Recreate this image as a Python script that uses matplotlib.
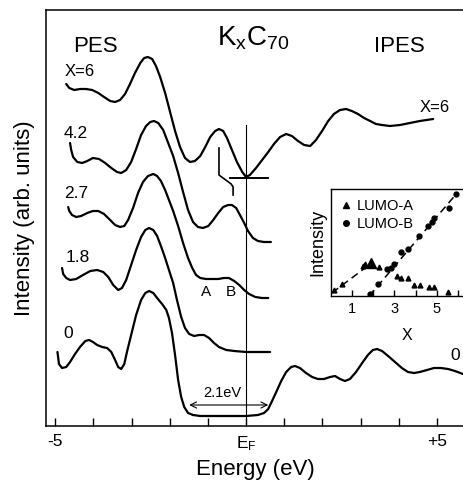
import matplotlib
matplotlib.use("Agg")
import matplotlib.pyplot as plt
from matplotlib.lines import Line2D

plt.rcParams['font.family'] = ['Liberation Sans', 'DejaVu Sans']
plt.rcParams['mathtext.fontset'] = 'custom'
plt.rcParams['mathtext.rm'] = 'Liberation Sans'
plt.rcParams['mathtext.it'] = 'Liberation Sans:italic'

# photoemission / inverse photoemission spectra of KxC70, offset vertically
# energy in eV relative to E_F, intensity in arb. units
e_x6 = [-4.71, -4.63, -4.50, -4.35, -4.19, -4.03, -3.87, -3.72, -3.56, -3.43,
        -3.30, -3.17, -3.04, -2.91, -2.77, -2.67, -2.57, -2.46, -2.36, -2.25,
        -2.12, -1.99, -1.86, -1.73, -1.60, -1.47, -1.34, -1.20, -1.07, -0.94,
        -0.81, -0.71, -0.60, -0.50, -0.37, -0.24, -0.10, 0.00, 0.10, 0.26,
        0.42, 0.58, 0.73, 0.89, 1.05, 1.20, 1.36, 1.52, 1.68, 1.83,
        1.99, 2.15, 2.30, 2.46, 2.62, 2.77, 2.93, 3.09, 3.25, 3.40,
        3.56, 3.77, 4.03, 4.29, 4.55, 4.90]
i_x6 = [34.2, 33.8, 33.6, 33.7, 33.7, 33.6, 33.3, 32.9, 32.5, 32.4,
        32.6, 33.2, 34.2, 35.3, 36.3, 36.8, 36.9, 36.7, 36.0, 34.9,
        33.3, 31.4, 29.5, 27.9, 26.8, 26.4, 26.5, 27.0, 27.9, 28.9,
        29.5, 29.7, 29.5, 28.8, 27.6, 26.4, 25.4, 24.9, 25.1, 25.8,
        26.6, 27.4, 28.2, 28.9, 29.2, 29.0, 28.5, 28.1, 28.0, 28.6,
        29.5, 30.5, 31.2, 31.6, 31.7, 31.5, 31.2, 30.8, 30.5, 30.2,
        30.1, 30.0, 30.1, 30.3, 30.5, 30.7]

e_42 = [-4.61, -4.58, -4.53, -4.42, -4.29, -4.16, -4.01, -3.85, -3.69, -3.53,
        -3.38, -3.27, -3.14, -3.01, -2.88, -2.75, -2.62, -2.51, -2.41, -2.30,
        -2.17, -2.04, -1.91, -1.78, -1.65, -1.52, -1.39, -1.26, -1.13, -0.99,
        -0.86, -0.73, -0.60, -0.47, -0.37, -0.26, -0.16, -0.05, 0.05, 0.18,
        0.31, 0.47, 0.65]
i_42 = [28.3, 27.6, 26.9, 26.4, 26.3, 26.5, 26.8, 26.7, 26.3, 25.8,
        25.4, 25.3, 25.6, 26.4, 27.7, 29.1, 30.0, 30.4, 30.5, 30.3,
        29.6, 28.3, 27.0, 25.3, 23.4, 21.6, 20.4, 19.9, 19.8, 20.0,
        20.6, 21.3, 21.9, 22.1, 22.1, 21.8, 21.1, 20.3, 19.5, 18.8,
        18.5, 18.4, 18.4]

e_27 = [-4.66, -4.63, -4.56, -4.45, -4.32, -4.16, -4.01, -3.87, -3.72, -3.56,
        -3.43, -3.30, -3.19, -3.09, -2.96, -2.83, -2.70, -2.57, -2.43, -2.33,
        -2.23, -2.12, -2.02, -1.91, -1.78, -1.65, -1.52, -1.41, -1.31, -1.20,
        -1.05, -0.89, -0.73, -0.58, -0.45, -0.31, -0.18, -0.05, 0.08, 0.24,
        0.42, 0.58]
i_27 = [21.9, 21.5, 21.1, 20.9, 21.0, 21.3, 21.5, 21.5, 21.2, 20.6,
        20.1, 19.9, 20.0, 20.6, 21.8, 23.3, 24.4, 25.0, 25.2, 25.0,
        24.5, 23.6, 22.6, 21.5, 20.0, 18.3, 16.8, 15.8, 15.1, 14.8,
        14.7, 14.7, 14.7, 14.8, 14.8, 14.5, 14.1, 13.6, 13.2, 12.9,
        12.8, 12.8]

e_18 = [-4.82, -4.79, -4.71, -4.61, -4.45, -4.27, -4.08, -3.90, -3.74, -3.61,
        -3.48, -3.35, -3.25, -3.14, -3.01, -2.88, -2.75, -2.64, -2.54, -2.43,
        -2.33, -2.23, -2.12, -2.02, -1.91, -1.81, -1.70, -1.60, -1.49, -1.36,
        -1.23, -1.10, -0.97, -0.84, -0.71, -0.52, -0.31, 0.00, 0.31, 0.63]
i_18 = [15.8, 15.2, 14.8, 14.6, 14.7, 15.1, 15.5, 15.6, 15.4, 14.9,
        14.1, 13.6, 13.8, 14.6, 16.1, 17.6, 18.9, 19.6, 19.8, 19.6,
        19.0, 18.0, 16.8, 15.6, 14.3, 12.6, 10.9, 9.8, 9.2, 9.0,
        9.1, 9.1, 8.8, 8.3, 7.9, 7.6, 7.5, 7.4, 7.4, 7.4]

e_0 = [-4.94, -4.92, -4.90, -4.82, -4.71, -4.61, -4.48, -4.35, -4.21, -4.11,
       -4.01, -3.90, -3.77, -3.64, -3.53, -3.43, -3.35, -3.27, -3.19, -3.12,
       -3.01, -2.88, -2.75, -2.64, -2.54, -2.43, -2.33, -2.20, -2.09, -2.02,
       -1.94, -1.86, -1.78, -1.70, -1.62, -1.52, -1.39, -1.20, -0.81, -0.42,
       0.00, 0.31, 0.47, 0.58, 0.68, 0.79, 0.92, 1.05, 1.18, 1.28,
       1.41, 1.57, 1.73, 1.88, 2.04, 2.20, 2.33, 2.46, 2.59, 2.72,
       2.88, 3.04, 3.19, 3.32, 3.43, 3.56, 3.72, 3.90, 4.08, 4.24,
       4.40, 4.55, 4.74, 4.92, 5.10, 5.29, 5.47, 5.68]
i_0 = [7.4, 6.8, 6.2, 5.8, 5.9, 6.4, 7.2, 7.9, 8.5, 8.6,
       8.4, 8.1, 7.9, 7.8, 7.4, 6.6, 5.9, 5.7, 6.2, 7.4,
       9.1, 11.1, 12.6, 13.3, 13.5, 13.3, 12.8, 12.2, 11.6, 10.8,
       9.3, 7.1, 4.6, 2.9, 1.9, 1.3, 1.1, 1.0, 1.0, 1.0,
       1.0, 1.1, 1.3, 1.7, 2.5, 3.4, 4.5, 5.4, 5.9, 6.0,
       5.8, 5.3, 4.9, 4.7, 4.7, 4.9, 5.0, 4.7, 4.5, 4.7,
       5.4, 6.3, 7.1, 7.6, 7.7, 7.5, 7.0, 6.4, 5.8, 5.4,
       5.3, 5.4, 5.6, 5.8, 5.8, 5.7, 5.5, 5.2]

# offset marker on the x=6 curve at E_F
hook_e = [-0.71, -0.71, -0.39, -0.34, -0.34]
hook_i = [27.8, 25.1, 24.2, 23.9, 23.1]
bar_e = [-0.42, 0.58]
bar_i = [24.8, 24.8]
ef_line_top = 30.1
gap_e = [-1.49, 0.58]
gap_i = 2.1

# inset: LUMO intensities vs potassium content x
x_lumo_a = [0.16, 0.51, 1.51, 1.63, 2.25, 3.10, 3.33, 3.65, 3.94, 4.21, 4.63, 4.86, 5.52]
y_lumo_a = [0.06, 0.11, 0.28, 0.30, 0.27, 0.19, 0.17, 0.17, 0.10, 0.10, 0.08, 0.08, 0.04]
x_lumo_a_big = [1.90]
y_lumo_a_big = [0.31]
x_lumo_b = [1.83, 2.22, 2.67, 2.83, 2.98, 3.30, 3.62, 4.16, 4.57, 4.76, 4.89, 5.56, 5.90]
y_lumo_b = [0.02, 0.11, 0.25, 0.26, 0.30, 0.41, 0.44, 0.56, 0.65, 0.69, 0.73, 0.82, 0.95]
fit_a_x = [0.05, 1.80]
fit_a_y = [0.03, 0.29]
fit_b_x = [1.80, 5.95]
fit_b_y = [0.00, 0.96]

fig = plt.figure(figsize=(4.64, 4.8), dpi=100)
ax = fig.add_axes([46 / 464, 54 / 480, 418 / 464, 416 / 480])

lw = 1.6
for e, i in [(e_x6, i_x6), (e_42, i_42), (e_27, i_27), (e_18, i_18), (e_0, i_0)]:
    ax.plot(e, i, color='black', lw=lw, solid_joinstyle='round', solid_capstyle='round')

ax.plot([0, 0], [0, ef_line_top], color='black', lw=0.8)
ax.plot(hook_e, hook_i, color='black', lw=1.2)
ax.plot(bar_e, bar_i, color='black', lw=1.4)

ax.annotate('', xy=(gap_e[0], gap_i), xytext=(gap_e[1], gap_i),
            arrowprops=dict(arrowstyle='<->', lw=0.8, color='black',
                            shrinkA=0, shrinkB=0, mutation_scale=11))
ax.text(-0.63, 2.6, '2.1eV', fontsize=10.5, ha='center', va='bottom')

ax.text(-1.05, 13.4, 'A', fontsize=11, ha='center', va='center')
ax.text(-0.39, 13.4, 'B', fontsize=11, ha='center', va='center')

ax.text(-4.35, 35.4, 'X=6', fontsize=12, ha='center', va='center')
ax.text(-4.45, 29.3, '4.2', fontsize=12.5, ha='center', va='center')
ax.text(-4.45, 23.3, '2.7', fontsize=12.5, ha='center', va='center')
ax.text(-4.42, 16.9, '1.8', fontsize=12.5, ha='center', va='center')
ax.text(-4.66, 9.3, '0', fontsize=12.5, ha='center', va='center')
ax.text(4.95, 31.9, 'X=6', fontsize=12, ha='center', va='center')
ax.text(5.47, 7.1, '0', fontsize=12.5, ha='center', va='center')

ax.text(-4.53, 37.4, 'PES', fontsize=16, ha='left', va='baseline')
ax.text(3.35, 37.4, 'IPES', fontsize=16, ha='left', va='baseline')
ax.text(-0.76, 38.1, r'K$_\mathregular{x}$C$_\mathregular{70}$', fontsize=20,
        ha='left', va='baseline')

ax.set_xlim(-5.24, 5.707)
ax.set_ylim(0, 41.6)
ax.set_xticks(range(-5, 6))
ax.set_xticklabels(['-5', '', '', '', '', r'E$_\mathregular{F}$', '', '', '', '', '+5'])
ax.tick_params(axis='x', direction='in', length=6, width=1, labelsize=12.5, pad=6)
ax.set_yticks([])
ax.spines['right'].set_visible(False)
for s in ['left', 'top', 'bottom']:
    ax.spines[s].set_linewidth(1.1)
ax.set_xlabel('Energy (eV)', fontsize=16, labelpad=4)
ax.set_ylabel('Intensity (arb. units)', fontsize=16, labelpad=8)

# inset
axi = fig.add_axes([331 / 464, 184 / 480, 135 / 464, 107 / 480])
axi.plot(fit_a_x, fit_a_y, color='black', lw=1.1, dashes=(5, 3))
axi.plot(fit_b_x, fit_b_y, color='black', lw=1.1, dashes=(5, 3))
axi.plot(x_lumo_a, y_lumo_a, ls='none', marker='^', ms=3.5, color='black')
axi.plot(x_lumo_a_big, y_lumo_a_big, ls='none', marker='^', ms=6.5, color='black')
axi.plot(x_lumo_b, y_lumo_b, ls='none', marker='o', ms=3.5, color='black')
axi.set_xlim(0, 6.38)
axi.set_ylim(0, 1)
axi.set_xticks([1, 2, 3, 4, 5, 6])
axi.set_xticklabels(['1', '', '3', '', '5', ''])
axi.tick_params(axis='x', direction='in', length=4.5, width=1, labelsize=10.5, pad=4)
axi.set_yticks([])
axi.spines['right'].set_visible(False)
for s in ['left', 'top', 'bottom']:
    axi.spines[s].set_linewidth(1.0)
axi.set_xlabel('X', fontsize=11.5, labelpad=2)
axi.xaxis.set_label_coords(0.56, -0.3)
axi.set_ylabel('Intensity', fontsize=13, labelpad=3)
handles = [Line2D([], [], ls='none', marker='^', ms=4, color='black', label='LUMO-A'),
           Line2D([], [], ls='none', marker='o', ms=4, color='black', label='LUMO-B')]
axi.legend(handles=handles, loc='upper left', bbox_to_anchor=(0.0, 1.0), frameon=False,
           fontsize=10.5, handlelength=0.6, handletextpad=0.5, borderaxespad=0.3,
           labelspacing=0.25)

fig.savefig('out.png', dpi=100)
